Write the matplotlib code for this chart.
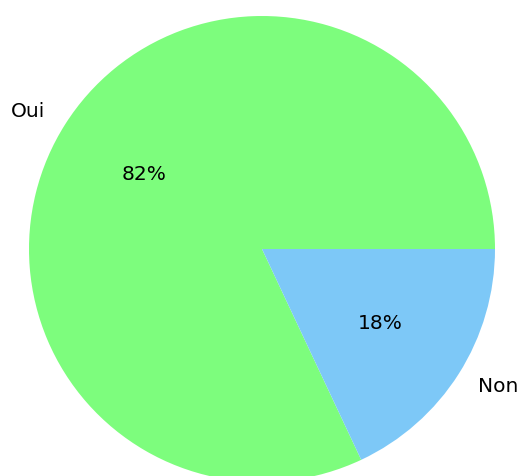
import matplotlib
matplotlib.use("Agg")
import matplotlib.pyplot as plt

# ----- Data -----

labels = ["Oui", "Non"]
values = [82, 18]
colors = ["#7dfd7d", "#7dc8f7"]

# ----- Figure -----

W, H = 518, 476
fig = plt.figure(figsize=(W / 100, H / 100), dpi=100)

# pie centre / radius in pixels, axes spans 2.5 radii
cx, cy, r = 262, 476 - 249, 233
span = 2.5 * r
ax = fig.add_axes([(cx - span / 2) / W, (cy - span / 2) / H, span / W, span / H])

ax.pie(
    values,
    labels=labels,
    colors=colors,
    autopct="%1.0f%%",
    textprops={"fontsize": 14.5},
)
ax.set_aspect("equal")

fig.savefig("out.png", dpi=100)
